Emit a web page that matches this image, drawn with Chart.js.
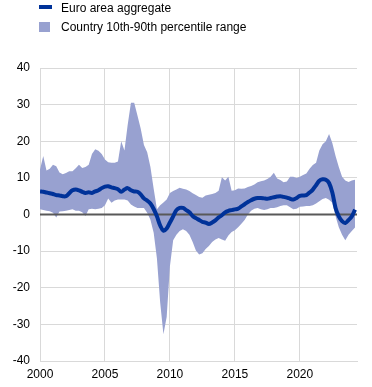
<!DOCTYPE html>
<html>
<head>
<meta charset="utf-8">
<script src="https://cdn.jsdelivr.net/npm/chart.js@4/dist/chart.umd.min.js"></script>
<style>
  html, body { margin: 0; padding: 0; background: #fff; }
  #wrap { position: relative; width: 372px; height: 387px; font-family: "Liberation Sans", Arial, sans-serif; }
  #legend { position: absolute; left: 39px; top: 0; font-size: 12px; color: #000; }
  .item { position: relative; height: 19px; line-height: 16px; padding-left: 22px; }
  .sw-line { position: absolute; left: 0; top: 5px; width: 13px; height: 4px; background: #003299; }
  .sw-box { position: absolute; left: 0; top: 3px; width: 11px; height: 10px; background: #98a1d0; }
</style>
</head>
<body>
<div id="wrap">
  <canvas id="myChart" width="372" height="387"></canvas>
  <div id="legend">
    <div class="item"><span class="sw-line"></span>Euro area aggregate</div>
    <div class="item"><span class="sw-box"></span>Country 10th-90th percentile range</div>
  </div>
</div>
<script>
//! Les données (trimestrielles, 2000 T1 - 2024 T2).

let trimestres = [];
for (let a = 2000; a <= 2024; a++) {
  for (let q = 0; q < 4; q++) {
    if (a === 2024 && q > 1) break;
    trimestres.push(a + q * 0.25);
  }
}

const zoneEuro = [
  6.3, 6.2, 6.0, 5.8, 5.6, 5.3, 5.2, 5.0,
  5.0, 5.8, 6.6, 6.8, 6.6, 6.2, 5.9, 6.1,
  5.9, 6.3, 6.6, 7.2, 7.6, 7.7, 7.4, 7.2,
  6.9, 6.2, 6.8, 7.2, 6.6, 6.3, 6.2, 5.5,
  4.4, 3.8, 3.0, 1.5, -0.5, -3.0, -4.4, -3.8,
  -2.2, -0.5, 1.2, 1.8, 1.8, 1.2, 0.6, -0.4,
  -1.0, -1.5, -2.0, -2.2, -2.6, -2.2, -1.6, -0.8,
  -0.2, 0.6, 1.0, 1.2, 1.4, 1.6, 2.2, 2.8,
  3.4, 3.9, 4.3, 4.5, 4.5, 4.4, 4.3, 4.5,
  4.7, 4.9, 5.0, 4.8, 4.6, 4.3, 4.1, 4.5,
  5.1, 5.2, 5.3, 6.0, 6.8, 8.0, 9.2, 9.6,
  9.5, 8.6, 6.0, 1.8, -0.5, -1.8, -2.3, -1.5,
  -0.5, 1.3,
];

const percentile90 = [
  12.3, 16.0, 12.0, 12.5, 13.6, 13.2, 11.5, 11.0,
  11.3, 11.8, 11.8, 12.6, 13.6, 12.7, 13.0, 13.6,
  16.5, 17.8, 17.4, 16.5, 15.0, 14.3, 14.1, 14.1,
  14.5, 20.0, 17.5, 24.5, 30.5, 30.5, 27.0, 23.5,
  19.0, 17.0, 13.0, 7.0, 1.4, 2.5, 3.3, 4.1,
  5.9, 6.4, 6.8, 7.3, 7.0, 6.8, 6.4, 5.8,
  5.3, 4.8, 4.6, 5.2, 5.4, 5.6, 5.9, 6.5,
  10.2, 9.3, 10.3, 6.5, 6.6, 7.1, 7.0, 7.1,
  7.5, 7.8, 8.2, 8.8, 9.1, 9.3, 9.7, 10.3,
  11.4, 9.8, 9.4, 8.8, 9.0, 10.3, 10.3, 10.0,
  10.3, 10.8, 11.2, 12.5, 13.5, 14.1, 17.5, 19.2,
  20.0, 22.0, 19.5, 16.0, 13.0, 10.3, 9.3, 8.9,
  9.3, 9.5,
];

const percentile10 = [
  1.4, 1.2, 1.0, 0.9, 0.5, -0.8, 0.8, 0.9,
  1.0, 1.2, 1.4, 1.0, 1.0, 0.6, -0.4, 1.4,
  1.6, 1.4, 1.6, 1.8, 2.5, 4.4, 3.2, 3.8,
  4.1, 4.1, 4.1, 3.8, 2.7, 2.2, 1.8, 1.8,
  1.8, 0.5, -1.4, -5.0, -12.0, -24.0, -32.7, -28.0,
  -14.1, -7.0, -5.5, -4.5, -4.0, -4.5, -5.5, -7.5,
  -9.8, -10.9, -10.6, -9.4, -8.6, -7.5, -6.8, -6.4,
  -6.8, -7.2, -5.7, -4.8, -4.3, -3.5, -2.5, -1.5,
  0.0, 1.0, 1.6, 1.8, 1.4, 1.2, 1.4, 1.8,
  1.8, 2.0, 2.3, 2.5, 2.5, 2.0, 1.4, 1.6,
  2.1, 2.2, 2.3, 2.3, 2.5, 3.0, 3.6, 4.2,
  4.5, 4.0, 3.2, -0.5, -3.5, -5.5, -7.0, -5.5,
  -4.5, -3.5,
];

const anneesTicks = [2000, 2005, 2010, 2015, 2020];

//! --------------------------------------------------------------

//! Logique pour la courbe.

const versPoints = (valeurs) => valeurs.map((v, i) => ({ x: trimestres[i], y: v }));

// ligne du zéro, dessinée par-dessus la zone mais sous la courbe
const ligneZero = {
  id: 'ligneZero',
  afterDatasetDraw(chart, args) {
    if (args.index !== 2) return;
    const { ctx, chartArea } = chart;
    const y = chart.scales.y.getPixelForValue(0);
    ctx.save();
    ctx.strokeStyle = '#595959';
    ctx.lineWidth = 2;
    ctx.beginPath();
    ctx.moveTo(chartArea.left, y);
    ctx.lineTo(chartArea.right, y);
    ctx.stroke();
    ctx.restore();
  },
};

const data = {
  datasets: [
    {
      label: 'Euro area aggregate',
      data: versPoints(zoneEuro),
      borderColor: '#003299',
      borderWidth: 4,
      pointRadius: 0,
      tension: 0.35,
      fill: false,
      order: 0,
    },
    {
      label: 'Country 10th-90th percentile range',
      data: versPoints(percentile90),
      borderWidth: 0,
      borderColor: 'rgba(0,0,0,0)',
      backgroundColor: '#98a1d0',
      pointRadius: 0,
      tension: 0,
      fill: '+1',
      order: 2,
    },
    {
      label: 'p10',
      data: versPoints(percentile10),
      borderWidth: 0,
      borderColor: 'rgba(0,0,0,0)',
      pointRadius: 0,
      tension: 0,
      fill: false,
      order: 1,
    },
  ],
};

let options = {
  responsive: false,
  animation: false,
  events: [],
  layout: { padding: { top: 68, right: 15, left: 0, bottom: 0 } },
  plugins: {
    legend: { display: false },
    tooltip: { enabled: false },
  },
  scales: {
    x: {
      type: 'linear',
      min: 2000,
      max: 2024.4,
      afterFit: (s) => { s.height = 26; },
      afterBuildTicks: (s) => { s.ticks = anneesTicks.map((v) => ({ value: v })); },
      grid: { color: '#d9d9d9', lineWidth: 1, drawTicks: false },
      border: { color: '#d9d9d9', width: 1 },
      ticks: {
        padding: 6,
        color: '#000',
        font: { family: 'Liberation Sans', size: 12 },
        maxRotation: 0,
        callback: (v) => String(v),
      },
    },
    y: {
      min: -40,
      max: 40,
      afterFit: (s) => { s.width = 40; },
      grid: { color: '#d9d9d9', lineWidth: 1, drawTicks: false },
      border: { color: '#d9d9d9', width: 1 },
      ticks: {
        stepSize: 10,
        padding: 10,
        color: '#000',
        font: { family: 'Liberation Sans', size: 12 },
      },
    },
  },
};

const config = { type: 'line', data, options, plugins: [ligneZero] };

const myChart = new Chart(document.getElementById('myChart'), config);
</script>
</body>
</html>
